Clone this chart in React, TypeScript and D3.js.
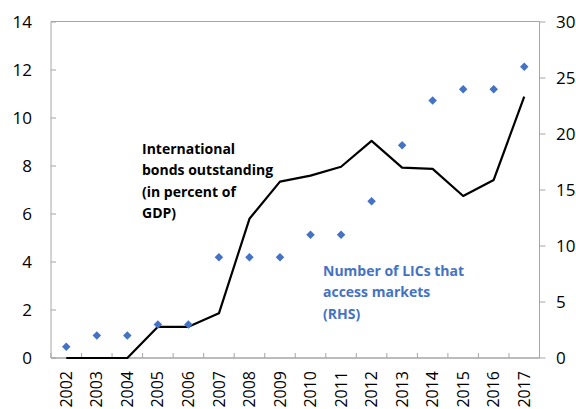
import React from "react";
import * as d3 from "d3";

const years = ["2002","2003","2004","2005","2006","2007","2008","2009","2010","2011","2012","2013","2014","2015","2016","2017"];
const bondsPctGDP = [0, 0, 0, 1.3, 1.3, 1.86, 5.8, 7.35, 7.6, 7.97, 9.05, 7.93, 7.88, 6.75, 7.42, 10.89];
const licCount = [1, 2, 2, 3, 3, 9, 9, 9, 11, 11, 14, 19, 23, 24, 24, 26];
const leftTicks = [0, 2, 4, 6, 8, 10, 12, 14];
const rightTicks = [0, 5, 10, 15, 20, 25, 30];
const bondsLabel = ["International", "bonds outstanding", "(in percent of", "GDP)"];
const licLabel = ["Number of LICs that", "access markets", "(RHS)"];

const W = 576, H = 409;
const L = 51, R = 539.5, T = 22, B = 358;
const FONT = "'Open Sans', 'Noto Sans', sans-serif";
const AXIS = "#a6a6a6";
const BLUE = "#4472c4";

export default function App() {
  const x = d3.scaleBand<string>().domain(years).range([L, R]);
  const yL = d3.scaleLinear().domain([0, 14]).range([B, T]);
  const yR = d3.scaleLinear().domain([0, 30]).range([B, T]);
  const cx = (yr: string) => (x(yr) as number) + x.bandwidth() / 2;
  const line = d3.line<number>().x((_, i) => cx(years[i])).y((v) => yL(v));
  const diamond = d3.symbol().type(d3.symbolDiamond2).size(46)();
  const bounds = years.map((y) => x(y) as number).concat([R]);

  return (
    <svg width={W} height={H} style={{ position: "absolute", left: 0, top: 0, background: "#fff" }}>
      <rect x={0} y={0} width={W} height={H} fill="#fff" />
      {/* frame */}
      <line x1={L} x2={R} y1={T - 0.5} y2={T - 0.5} stroke={AXIS} strokeWidth={1} />
      <line x1={L} x2={L} y1={T - 0.5} y2={B} stroke={AXIS} strokeWidth={1} />
      <line x1={R} x2={R} y1={T - 0.5} y2={B} stroke={AXIS} strokeWidth={1} />
      <line x1={L} x2={R} y1={B} y2={B} stroke={AXIS} strokeWidth={1.3} />
      {/* left ticks */}
      {leftTicks.map((t) => (
        <g key={"l" + t}>
          <line x1={L} x2={L + 5} y1={yL(t)} y2={yL(t)} stroke={AXIS} />
          <text x={32} y={yL(t)} dy="0.35em" textAnchor="end" fontFamily={FONT} fontSize={17} fill="#000">{t}</text>
        </g>
      ))}
      {/* right ticks */}
      {rightTicks.map((t) => (
        <g key={"r" + t}>
          <line x1={R} x2={R + 6} y1={yR(t)} y2={yR(t)} stroke={AXIS} />
          <text x={556} y={yR(t)} dy="0.35em" textAnchor="start" fontFamily={FONT} fontSize={17} fill="#000">{t}</text>
        </g>
      ))}
      {/* category ticks */}
      {bounds.map((b, i) => (
        <line key={"c" + i} x1={b} x2={b} y1={B} y2={B - 5} stroke={AXIS} />
      ))}
      {years.map((yr) => (
        <text key={"x" + yr} transform={`translate(${cx(yr)},${B + 13}) rotate(-90)`} dy="0.35em" textAnchor="end" fontFamily={FONT} fontSize={16} fill="#000">{yr}</text>
      ))}
      {/* line */}
      <path d={line(bondsPctGDP) || ""} fill="none" stroke="#000" strokeWidth={2.2} strokeLinejoin="round" />
      {/* diamonds */}
      {licCount.map((v, i) => (
        <path key={"d" + i} d={diamond || ""} transform={`translate(${cx(years[i])},${yR(v)})`} fill={BLUE} />
      ))}
      {/* labels */}
      {bondsLabel.map((s, i) => (
        <text key={"b" + i} x={142} y={154 + i * 21.3} fontFamily={FONT} fontWeight="bold" fontSize={14} fill="#000">{s}</text>
      ))}
      {licLabel.map((s, i) => (
        <text key={"n" + i} x={323} y={276 + i * 21.3} fontFamily={FONT} fontWeight="bold" fontSize={14} fill={BLUE}>{s}</text>
      ))}
    </svg>
  );
}
